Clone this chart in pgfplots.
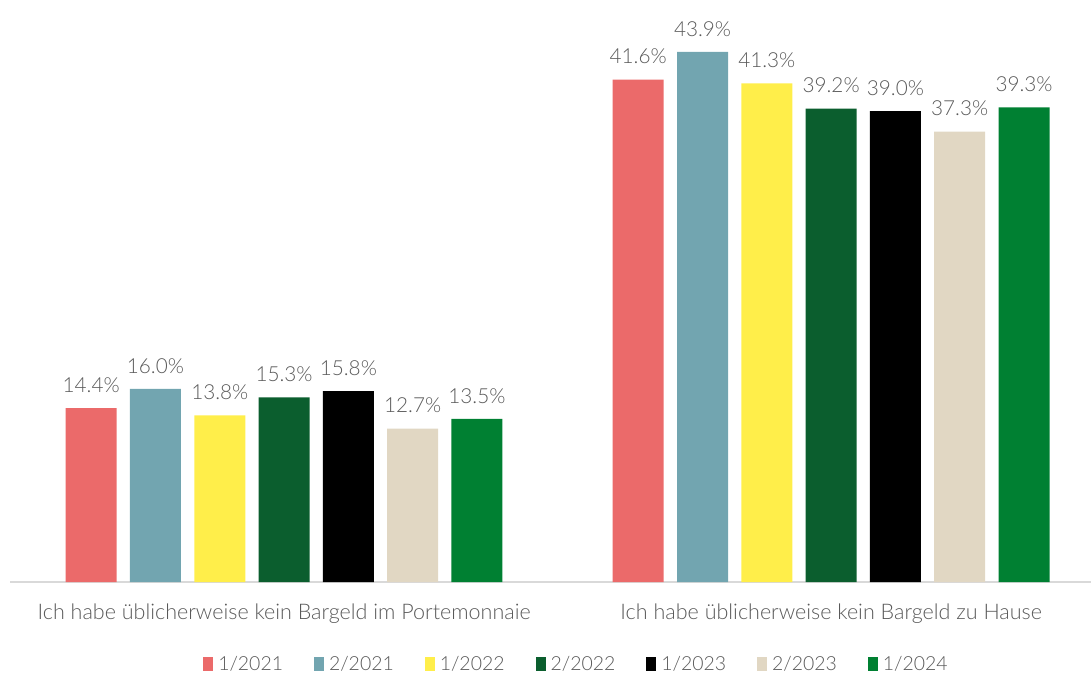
\documentclass[border=0pt]{standalone}
\usepackage{fontspec}
\setmainfont{Lato Light}
\usepackage{pgfplots}
\pgfplotsset{compat=1.18}
\definecolor{c1}{HTML}{EB6A6A}
\definecolor{c2}{HTML}{72A5B0}
\definecolor{c3}{HTML}{FFEE4A}
\definecolor{c4}{HTML}{0B5E2E}
\definecolor{c5}{HTML}{000000}
\definecolor{c6}{HTML}{E1D7C3}
\definecolor{c7}{HTML}{008032}
\definecolor{tg}{HTML}{595959}
\begin{document}
\begin{tikzpicture}
\begin{axis}[
  name=ax, at={(10bp,93bp)}, anchor=south west,
  scale only axis, width=1081bp, height=582bp,
  xmin=-0.501, xmax=1.475, ymin=0, ymax=48.2,
  ybar=13.3bp, bar width=51bp,
  axis y line=none, axis x line*=bottom,
  x axis line style={draw=black!15, line width=1.5bp},
  xtick={0,1},
  xticklabels={Ich habe üblicherweise kein Bargeld im Portemonnaie, Ich habe üblicherweise kein Bargeld zu Hause},
  major tick length=0pt,
  xticklabel style={font=\fontsize{21.6}{25}\selectfont, text=tg, yshift=-18bp},
  ytick=\empty,
  clip=false,
  /pgf/number format/assume math mode=true,
  nodes near coords={\pgfmathprintnumber[fixed, fixed zerofill, precision=1]{\pgfplotspointmeta}\%},
  nodes near coords style={font=\fontsize{20.8}{24}\selectfont, text=tg, yshift=12bp},
  every axis plot/.append style={draw=none},
  legend style={at={(0.524,0)}, anchor=north, yshift=-70bp, draw=none, legend columns=-1,
    font=\fontsize{19.5}{22}\selectfont, text=tg,
    /tikz/every odd column/.append style={column sep=3bp},
    /tikz/every even column/.append style={column sep=29bp}},
  legend image code/.code={\fill[#1] (0bp,-7bp) rectangle (10bp,7bp);},
]
\addplot[fill=c1] coordinates {(0,14.4) (1,41.6)};
\addplot[fill=c2] coordinates {(0,16.0) (1,43.9)};
\addplot[fill=c3] coordinates {(0,13.8) (1,41.3)};
\addplot[fill=c4] coordinates {(0,15.3) (1,39.2)};
\addplot[fill=c5] coordinates {(0,15.8) (1,39.0)};
\addplot[fill=c6] coordinates {(0,12.7) (1,37.3)};
\addplot[fill=c7] coordinates {(0,13.5) (1,39.3)};
\legend{1/2021, 2/2021, 1/2022, 2/2022, 1/2023, 2/2023, 1/2024}
\end{axis}
\pgfresetboundingbox
\path (0,0) rectangle (1091bp,675bp);
\end{tikzpicture}
\end{document}
